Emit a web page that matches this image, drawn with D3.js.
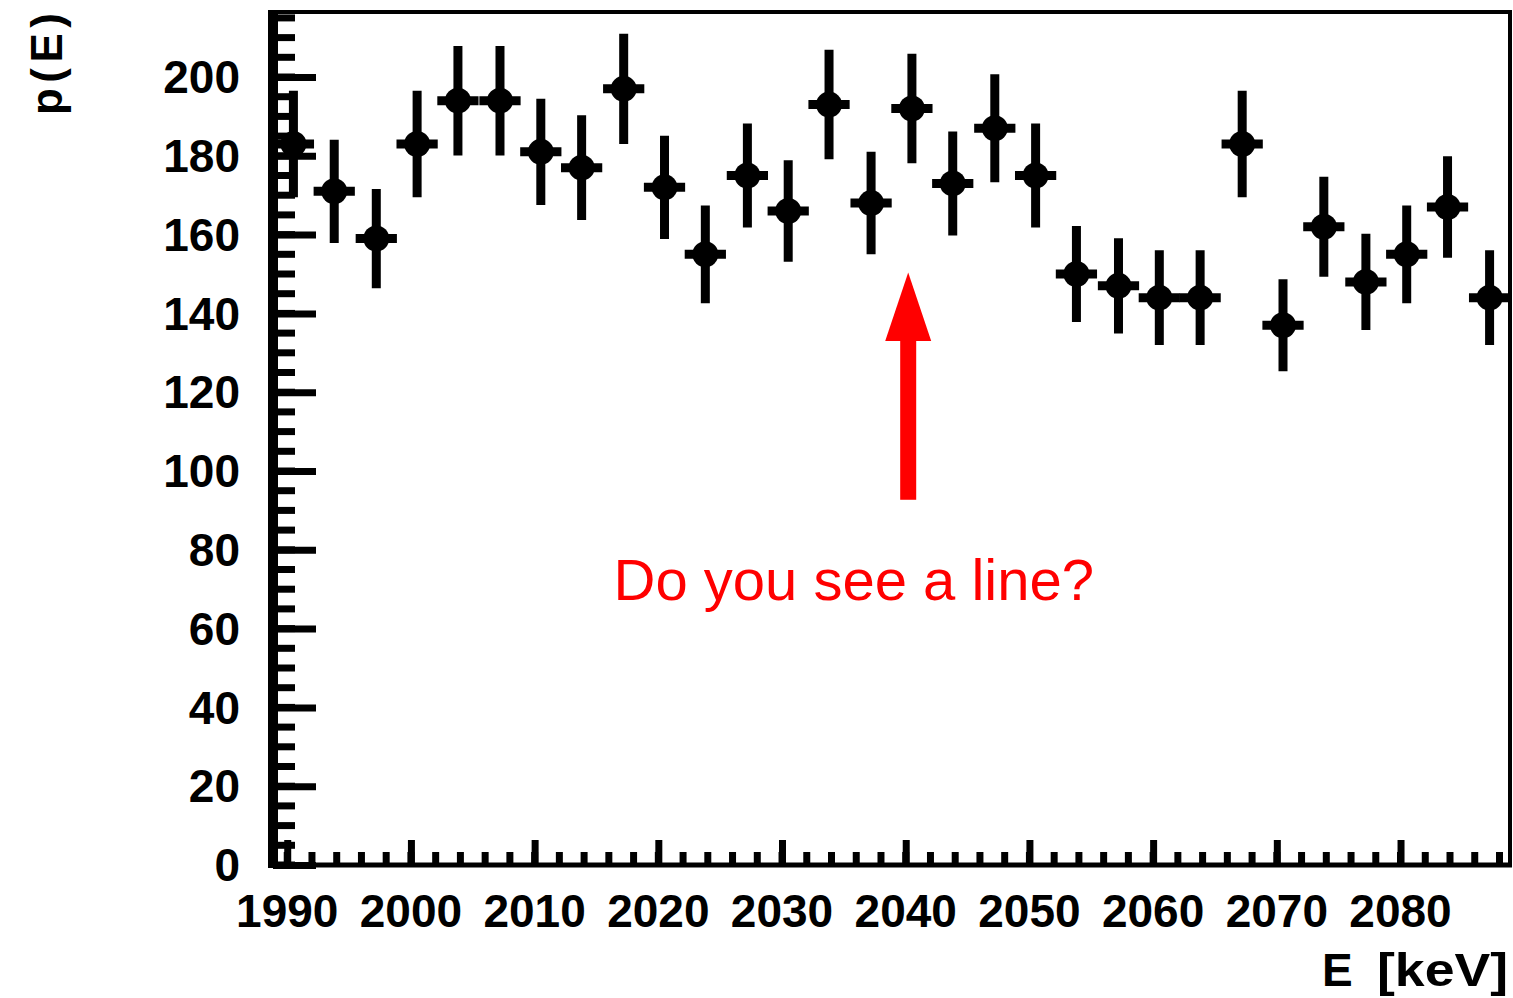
<!DOCTYPE html>
<html>
<head>
<meta charset="utf-8">
<script src="https://cdn.jsdelivr.net/npm/d3@7"></script>
<style>
  html, body { margin: 0; padding: 0; background: #fff; }
  svg { display: block; }
</style>
</head>
<body>
<svg id="chart" width="1513" height="998"></svg>
<script>
// ---- data ----
const binCenters = [1990.5, 1993.8, 1997.2, 2000.5, 2003.8, 2007.2, 2010.5, 2013.8, 2017.2, 2020.5,
                    2023.8, 2027.2, 2030.5, 2033.8, 2037.2, 2040.5, 2043.8, 2047.2, 2050.5, 2053.8,
                    2057.2, 2060.5, 2063.8, 2067.2, 2070.5, 2073.8, 2077.2, 2080.5, 2083.8, 2087.2];
const counts = [183, 171, 159, 183, 194, 194, 181, 177, 197, 172,
                155, 175, 166, 193, 168, 192, 173, 187, 175, 150,
                147, 144, 144, 183, 137, 162, 148, 155, 167, 144];
const errors = [13.5, 13.1, 12.6, 13.5, 13.9, 13.9, 13.5, 13.3, 14.0, 13.1,
                12.4, 13.2, 12.9, 13.9, 13.0, 13.9, 13.2, 13.7, 13.2, 12.2,
                12.1, 12.0, 12.0, 13.5, 11.7, 12.7, 12.2, 12.4, 12.9, 12.0];
const binHalfWidth = 1.667;
const xTickLabels = [1990, 2000, 2010, 2020, 2030, 2040, 2050, 2060, 2070, 2080];
const yTickLabels = [0, 20, 40, 60, 80, 100, 120, 140, 160, 180, 200];
const xDomain = [1988.85, 2088.85];
const yDomain = [0, 216.5];
const annotationText = "Do you see a line?";
const arrowEnergy = 2040.2;
const arrowTipValue = 150.4;
const arrowHeadBaseValue = 133.0;
const arrowTailValue = 92.7;
const textEnergy = 2035.8;
const textValue = 67.3;

// ---- layout ----
const svg = d3.select("#chart");
const L = 273, R = 1510, T = 12, B = 865;
const x = d3.scaleLinear().domain(xDomain).range([L, R]);
const y = d3.scaleLinear().domain(yDomain).range([B, T]);
const FONT = "'Liberation Sans', Arial, sans-serif";

svg.append("rect").attr("width", 1513).attr("height", 998).attr("fill", "#fff");

// frame: top & right
svg.append("line").attr("x1", L).attr("x2", R + 2).attr("y1", T).attr("y2", T)
  .attr("stroke", "#000").attr("stroke-width", 4);
svg.append("line").attr("x1", R).attr("x2", R).attr("y1", T - 2).attr("y2", B)
  .attr("stroke", "#000").attr("stroke-width", 4);

// y axis (ticks inward)
const yMinor = d3.range(0, 216, 5);
const yAxis = d3.axisRight(y).tickValues(yTickLabels).tickSize(43).tickFormat("");
const gy = svg.append("g").attr("transform", `translate(${L},0)`).call(yAxis);
gy.select(".domain").remove();
gy.selectAll(".tick line").attr("stroke", "#000").attr("stroke-width", 7);
svg.append("g").selectAll("line").data(yMinor).join("line")
  .attr("x1", L).attr("x2", L + 22).attr("y1", d => y(d)).attr("y2", d => y(d))
  .attr("stroke", "#000").attr("stroke-width", 7);
svg.append("g").selectAll("text").data(yTickLabels).join("text")
  .attr("x", 240).attr("y", d => y(d)).attr("dy", "0.35em")
  .attr("text-anchor", "end")
  .attr("font-family", FONT)
  .attr("font-weight", "bold").attr("font-size", 46)
  .text(d => d);

// x axis (ticks inward)
const xMinor = d3.range(1990, 2089, 2);
const xAxis = d3.axisTop(x).tickValues(xTickLabels).tickSize(25).tickFormat("");
const gx = svg.append("g").attr("transform", `translate(0,${B})`).call(xAxis);
gx.select(".domain").remove();
gx.selectAll(".tick line").attr("stroke", "#000").attr("stroke-width", 7);
svg.append("g").selectAll("line").data(xMinor).join("line")
  .attr("x1", d => x(d)).attr("x2", d => x(d)).attr("y1", B).attr("y2", B - 13)
  .attr("stroke", "#000").attr("stroke-width", 7);
svg.append("g").selectAll("text").data(xTickLabels).join("text")
  .attr("x", d => x(d)).attr("y", 927)
  .attr("text-anchor", "middle")
  .attr("font-family", FONT)
  .attr("font-weight", "bold").attr("font-size", 46)
  .text(d => d);

// axis lines
svg.append("line").attr("x1", L).attr("x2", L).attr("y1", T - 2).attr("y2", B + 3)
  .attr("stroke", "#000").attr("stroke-width", 10);
svg.append("line").attr("x1", L - 5).attr("x2", R + 2).attr("y1", B).attr("y2", B)
  .attr("stroke", "#000").attr("stroke-width", 5);

// axis titles
const xt = svg.append("text").attr("y", 986)
  .attr("font-family", FONT)
  .attr("font-weight", "bold").attr("font-size", 46);
xt.append("tspan").attr("x", 1322).text("E");
xt.append("tspan").attr("x", 1377).attr("textLength", 131).attr("lengthAdjust", "spacingAndGlyphs").text("[keV]");

svg.append("text")
  .attr("transform", "translate(62,13) rotate(-90)")
  .attr("text-anchor", "end")
  .attr("font-family", FONT)
  .attr("font-weight", "bold").attr("font-size", 44)
  .attr("textLength", 102).attr("lengthAdjust", "spacing")
  .text("p(E)");

// data points
const pts = binCenters.map((e, i) => ({ e, v: counts[i], err: errors[i] }));
const gp = svg.append("g");
gp.selectAll("line.v").data(pts).join("line").attr("class", "v")
  .attr("x1", d => x(d.e)).attr("x2", d => x(d.e))
  .attr("y1", d => y(d.v - d.err)).attr("y2", d => y(Math.min(d.v + d.err, yDomain[1])))
  .attr("stroke", "#000").attr("stroke-width", 9);
gp.selectAll("line.h").data(pts).join("line").attr("class", "h")
  .attr("x1", d => Math.max(x(d.e - binHalfWidth), L)).attr("x2", d => Math.min(x(d.e + binHalfWidth), R))
  .attr("y1", d => y(d.v)).attr("y2", d => y(d.v))
  .attr("stroke", "#000").attr("stroke-width", 9);
gp.selectAll("circle").data(pts).join("circle")
  .attr("cx", d => x(d.e)).attr("cy", d => y(d.v)).attr("r", 13)
  .attr("fill", "#000");

// annotation arrow
const ax = x(arrowEnergy);
const shaftW = 16, headW = 46;
svg.append("rect")
  .attr("x", ax - shaftW / 2).attr("y", y(arrowHeadBaseValue) - 1)
  .attr("width", shaftW).attr("height", y(arrowTailValue) - y(arrowHeadBaseValue) + 1)
  .attr("fill", "#ff0000");
svg.append("path")
  .attr("d", d3.line()([[ax, y(arrowTipValue)], [ax + headW / 2, y(arrowHeadBaseValue)], [ax - headW / 2, y(arrowHeadBaseValue)]]) + "Z")
  .attr("fill", "#ff0000");
svg.append("text")
  .attr("x", x(textEnergy)).attr("y", y(textValue))
  .attr("text-anchor", "middle")
  .attr("font-family", FONT)
  .attr("font-size", 58).attr("fill", "#ff0000")
  .text(annotationText);
</script>
</body>
</html>
